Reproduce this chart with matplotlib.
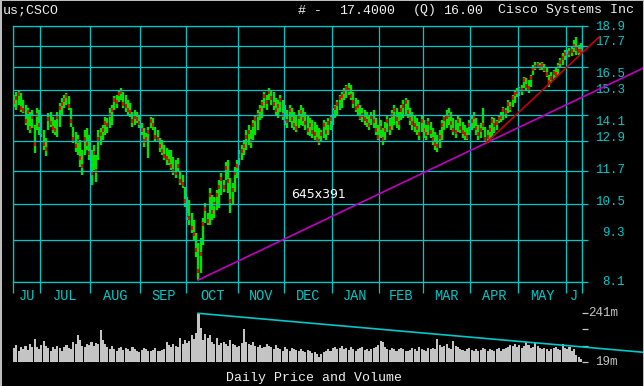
import numpy as np
import pandas as pd
import matplotlib
matplotlib.use("Agg")
import matplotlib.pyplot as plt
import matplotlib.ticker as mticker
from matplotlib.patches import Rectangle
from matplotlib.transforms import blended_transform_factory

# ---------------- data ----------------
holidays = ['2002-07-04', '2002-09-02', '2002-11-28', '2002-12-25', '2003-01-01',
            '2003-01-20', '2003-02-17', '2003-04-18', '2003-05-26']
dates = pd.bdate_range('2002-06-13', '2003-06-10', freq='C', holidays=holidays)
month_labels = ['JU', 'JUL', 'AUG', 'SEP', 'OCT', 'NOV', 'DEC', 'JAN', 'FEB', 'MAR', 'APR', 'MAY', 'J']

high = [15.04, 15.19, 15.29, 15.14, 14.79, 14.55, 14.41, 14.22, 14.31, 13.62,
        14.41, 14.31, 14.08, 13.39, 13.05, 14.17, 14.22, 13.99, 13.85, 14.22,
        14.65, 14.89, 15.04, 15.14, 14.99, 14.41, 13.53, 13.30, 13.18, 12.96,
        12.54, 13.39, 13.48, 13.18, 12.54, 12.75, 12.33, 13.39, 13.48, 13.62,
        13.99, 13.94, 14.41, 14.55, 14.99, 15.04, 15.29, 15.39, 15.19, 15.04,
        14.79, 14.65, 14.22, 14.31, 14.22, 14.08, 13.71, 13.48, 13.26, 13.53,
        13.99, 13.94, 13.53, 13.39, 13.05, 12.96, 12.75, 12.62, 12.54, 12.54,
        12.25, 12.13, 12.21, 11.65, 11.54, 11.10, 10.74, 10.62, 10.18, 9.95,
        9.52, 9.22, 9.37, 10.01, 10.52, 10.18, 11.06, 10.80, 10.74, 10.98,
        11.35, 11.62, 11.35, 12.05, 12.13, 11.43, 11.24, 11.85, 12.13, 12.54,
        12.75, 12.96, 13.39, 13.62, 13.39, 13.85, 14.08, 14.31, 14.55, 14.79,
        15.19, 15.04, 15.39, 15.29, 15.19, 14.89, 14.79, 15.04, 14.79, 14.55,
        14.31, 14.55, 14.41, 14.22, 14.08, 14.31, 14.55, 14.41, 14.22, 14.08,
        13.94, 13.85, 13.76, 13.62, 13.48, 13.39, 13.85, 13.76, 13.94, 14.08,
        14.41, 14.55, 14.79, 15.04, 15.19, 15.39, 15.55, 15.65, 15.55, 15.19,
        14.89, 14.79, 14.55, 14.41, 14.31, 14.22, 14.08, 14.22, 14.31, 13.94,
        13.62, 13.85, 13.48, 13.76, 14.08, 13.94, 14.31, 14.55, 14.41, 14.22,
        14.55, 14.79, 14.89, 14.79, 14.41, 14.22, 14.08, 13.94, 13.76, 14.08,
        13.85, 13.62, 13.94, 13.76, 13.48, 13.30, 13.18, 13.39, 13.85, 14.08,
        14.31, 14.41, 14.22, 13.94, 13.85, 14.08, 13.94, 13.76, 13.62, 13.48,
        13.85, 14.08, 14.22, 13.94, 13.62, 13.71, 14.41, 13.53, 13.39, 13.62,
        13.99, 13.94, 13.85, 14.08, 14.22, 14.46, 14.41, 14.79, 14.70, 15.04,
        15.29, 15.39, 15.45, 15.55, 15.97, 15.92, 15.81, 16.07, 16.61, 16.78,
        16.78, 16.72, 16.78, 16.67, 16.51, 16.07, 16.24, 16.34, 16.45, 16.72,
        17.00, 17.29, 17.46, 17.46, 17.58, 17.64, 18.04, 18.22, 17.75, 17.87]

low = [14.46, 14.31, 14.55, 14.21, 14.17, 13.62, 13.39, 13.26, 13.48, 12.41,
       13.39, 13.18, 13.09, 12.54, 12.29, 13.39, 13.53, 13.26, 13.18, 13.09,
       13.53, 14.08, 14.41, 14.55, 14.31, 13.53, 12.83, 12.45, 12.33, 11.85,
       11.54, 12.33, 12.54, 12.13, 11.17, 11.73, 11.28, 12.13, 12.75, 12.96,
       13.18, 13.26, 13.48, 13.62, 14.31, 14.41, 14.70, 14.79, 14.41, 14.22,
       14.08, 13.99, 13.53, 13.62, 13.71, 13.48, 13.18, 12.66, 12.87, 12.21,
       13.48, 13.39, 12.87, 12.87, 12.45, 12.33, 12.13, 11.93, 11.93, 11.73,
       11.54, 11.43, 11.65, 11.17, 11.06, 10.38, 9.95, 9.78, 9.52, 9.31,
       8.80, 8.15, 8.35, 9.16, 9.85, 9.78, 9.78, 9.95, 10.01, 10.28,
       10.35, 10.80, 10.91, 11.35, 10.87, 10.18, 10.45, 10.91, 11.43, 11.93,
       12.13, 12.33, 12.54, 12.75, 12.62, 12.96, 13.18, 13.39, 13.85, 13.94,
       14.41, 14.31, 14.79, 14.55, 14.31, 14.08, 13.94, 14.22, 13.85, 13.62,
       13.48, 13.76, 13.48, 13.39, 13.30, 13.48, 13.62, 13.57, 13.39, 13.18,
       13.13, 13.05, 12.96, 12.87, 12.75, 12.87, 13.05, 12.96, 13.18, 13.39,
       13.62, 13.94, 14.08, 14.31, 14.41, 14.79, 14.89, 15.04, 14.79, 14.41,
       14.22, 14.08, 13.85, 13.76, 13.62, 13.53, 13.39, 13.62, 13.48, 13.18,
       12.96, 13.05, 12.75, 12.96, 13.30, 13.18, 13.39, 13.62, 13.48, 13.39,
       13.85, 13.94, 14.08, 13.94, 13.62, 13.39, 13.30, 13.18, 12.96, 13.30,
       13.05, 12.96, 13.18, 13.05, 12.75, 12.54, 12.45, 12.62, 12.96, 13.39,
       13.48, 13.62, 13.39, 13.18, 13.05, 13.30, 13.26, 13.05, 12.96, 12.96,
       13.18, 13.39, 13.48, 13.18, 12.96, 13.05, 13.39, 12.87, 12.83, 12.96,
       13.09, 13.26, 13.39, 13.71, 13.76, 13.85, 13.94, 14.17, 14.22, 14.46,
       14.65, 14.94, 14.99, 15.04, 15.39, 15.29, 15.14, 15.45, 16.07, 16.34,
       16.45, 16.34, 16.34, 16.24, 15.97, 15.45, 15.65, 15.81, 15.92, 16.07,
       16.51, 16.61, 16.89, 17.00, 17.06, 17.11, 17.35, 17.17, 17.17, 17.35]

close = [14.70, 14.90, 15.10, 14.40, 14.30, 13.80, 14.20, 13.50, 14.00, 12.80,
         14.10, 13.60, 13.30, 12.80, 12.60, 13.90, 13.70, 13.50, 13.40, 14.00,
         14.40, 14.60, 14.80, 15.00, 14.50, 13.80, 13.00, 12.70, 12.90, 12.20,
         11.90, 13.00, 12.80, 12.40, 11.60, 12.40, 11.70, 13.00, 13.20, 13.40,
         13.70, 13.60, 14.10, 14.30, 14.80, 14.70, 15.10, 15.20, 14.60, 14.50,
         14.30, 14.20, 13.80, 14.00, 13.90, 13.70, 13.40, 12.90, 13.00, 13.30,
         13.80, 13.60, 13.10, 13.00, 12.70, 12.50, 12.30, 12.20, 12.10, 11.90,
         11.70, 11.60, 11.90, 11.30, 11.20, 10.60, 10.10, 10.00, 9.70, 9.50,
         9.00, 8.40, 8.90, 9.80, 10.30, 9.90, 10.80, 10.20, 10.50, 10.80,
         11.10, 11.40, 11.10, 11.80, 11.30, 10.60, 11.00, 11.60, 11.90, 12.30,
         12.50, 12.70, 13.10, 13.30, 12.90, 13.60, 13.90, 14.10, 14.30, 14.60,
         15.00, 14.70, 15.20, 14.90, 14.60, 14.30, 14.50, 14.80, 14.10, 13.90,
         13.80, 14.30, 13.90, 13.60, 13.50, 14.00, 14.20, 13.90, 13.70, 13.40,
         13.60, 13.30, 13.20, 13.00, 12.90, 13.20, 13.60, 13.30, 13.70, 13.90,
         14.20, 14.40, 14.60, 14.90, 15.00, 15.20, 15.40, 15.30, 15.00, 14.70,
         14.40, 14.50, 14.00, 14.10, 13.90, 13.80, 13.60, 14.00, 13.80, 13.40,
         13.10, 13.50, 13.00, 13.40, 13.80, 13.50, 14.10, 14.30, 13.90, 13.70,
         14.30, 14.50, 14.70, 14.20, 13.90, 13.70, 13.60, 13.50, 13.20, 13.80,
         13.40, 13.20, 13.70, 13.30, 13.00, 12.80, 12.70, 13.10, 13.60, 13.90,
         14.00, 14.10, 13.70, 13.40, 13.30, 13.80, 13.50, 13.30, 13.20, 13.10,
         13.60, 13.80, 14.00, 13.50, 13.20, 13.40, 13.60, 13.00, 13.10, 13.40,
         13.80, 13.60, 13.70, 13.90, 14.00, 14.30, 14.20, 14.60, 14.40, 14.90,
         15.10, 15.20, 15.30, 15.30, 15.80, 15.50, 15.40, 15.90, 16.40, 16.50,
         16.60, 16.50, 16.60, 16.40, 16.10, 15.70, 15.90, 16.20, 16.10, 16.50,
         16.80, 17.00, 17.20, 17.10, 17.30, 17.40, 17.70, 17.50, 17.40, 17.40]

volume = [80, 95, 70, 85, 75, 90, 72, 100, 85, 122, 88, 78, 95, 115, 90, 80, 70, 85,
          75, 90, 82, 70, 88, 95, 80, 78, 110, 100, 141, 118, 92, 85, 100, 95, 110, 90, 105, 98,
          164, 120, 100, 85, 78, 90, 75, 70, 82, 88, 72, 80, 75, 68, 85, 78, 70, 65, 72, 80,
          75, 70, 68, 74, 80, 70, 66, 72, 78,
          111, 95, 85, 100, 92, 88, 130, 100, 120, 105, 115, 141, 125, 150,
          241,
          172, 120, 146, 128, 140, 110, 100, 128, 95, 105, 110, 98, 90, 118, 100, 95, 85, 92,
          105, 169, 110,
          100, 95, 111, 90, 85, 95, 80, 88, 100, 92, 85, 78, 95, 82, 75, 70, 88, 75, 70, 80,
          78, 72, 68, 75, 70, 65, 72, 68, 60, 65, 55,
          40,
          55, 62, 70, 75, 68, 80, 85, 78, 82, 90, 75, 80, 72, 85, 78, 70, 75, 82, 88, 72, 78,
          70, 75, 80, 85, 95,
          114,
          108, 85, 78, 72, 80, 75, 70, 78, 82, 75, 70, 68, 72, 80, 75, 70, 85, 78, 72, 70, 80,
          75, 82, 78,
          123,
          95, 85, 90, 100, 82, 78, 115, 90, 85, 78, 72, 70, 75, 80, 72, 68, 75, 70, 72, 80, 78,
          70, 75, 72, 68, 75, 80, 70, 78, 82, 88,
          95, 90, 100, 85, 95, 80, 90, 108, 95, 80, 85, 104, 90, 80, 75, 82, 78, 70, 75, 80,
          85, 78, 72, 100, 80, 75, 85, 70, 78, 50, 40, 30]

price_ticks = [8.1, 9.3, 10.5, 11.7, 12.9, 14.1, 15.3, 16.5, 17.7, 18.9]
vol_ticks = [19, 93, 167, 241]

# trend lines (bar index, value)
magenta_x = [80.8, 276.7]
magenta_y = [8.15, 16.46]
red_x = [207.3, 257.0]
red_y = [12.83, 18.22]
vol_line_x = [80.8, 276.7]
vol_line_y = [241, 62]

# ---------------- style ----------------
W, H = 644, 386
BG = 'black'
CYAN = '#00C8C8'
GREEN = '#00E400'
RED = '#E00000'
MAG = '#C000C0'
TREND_RED = '#C80000'
VOLC = '#C4C4C4'
WHITE = '#F0F0F0'
MONO = ['Liberation Mono', 'DejaVu Sans Mono']
plt.rcParams['font.family'] = MONO


def rect(l, t, r, b):
    return [l / W, 1 - b / H, (r - l) / W, (b - t) / H]


fig = plt.figure(figsize=(W / 100, H / 100), dpi=100, facecolor=BG)

N = len(dates)
x = np.arange(N)
months = np.array([d.month for d in dates])
starts = [0] + [i for i in range(1, N) if months[i] != months[i - 1]]
ends = starts[1:] + [N]
bounds = [s - 0.5 for s in starts] + [N - 0.5]
centers = [(s + e) / 2 - 0.5 for s, e in zip(starts, ends)]

# ---------------- price panel ----------------
ax = fig.add_axes(rect(13, 26, 582, 282))
ax.set_facecolor(BG)
ax.set_yscale('log')
ax.set_ylim(8.1, 18.9)
ax.set_xlim(-0.5, N - 0.5)
ax.set_axisbelow(False)

ax.vlines(x, low, high, color=GREEN, lw=1.7, zorder=1.5)
ax.plot(x, close, ls='none', marker='|', ms=2.6, mew=1.3, color=RED, zorder=1.6)

ax.yaxis.set_major_locator(mticker.FixedLocator(price_ticks))
ax.yaxis.set_minor_locator(mticker.NullLocator())
ax.yaxis.set_major_formatter(mticker.NullFormatter())
ax.yaxis.set_minor_formatter(mticker.NullFormatter())
ax.yaxis.tick_right()
ax.tick_params(axis='y', which='major', direction='out', length=4.4, width=0.9,
               color=CYAN, labelright=False, left=False)

ax.set_xticks(bounds)
ax.set_xticklabels([''] * len(bounds))
ax.set_xticks(centers, minor=True)
ax.set_xticklabels(month_labels, minor=True)
ax.tick_params(axis='x', which='major', direction='out', length=8, width=0.9, color=CYAN)
ax.tick_params(axis='x', which='minor', length=0, pad=5, labelcolor=CYAN, labelsize=9.8)
ax.grid(True, which='major', axis='both', color=CYAN, lw=0.9)
for s in ax.spines.values():
    s.set_color(CYAN)
    s.set_linewidth(0.9)

trans = blended_transform_factory(ax.transAxes, ax.transData)
label_dy = [0, 7, 2, 1, 3.7, -7.5, 0, -7, 4, -0.5]  # pixel nudges of the labels
for v, dy in zip(price_ticks, label_dy):
    ax.annotate(f'{v:.1f}', xy=(1, v), xycoords=trans, xytext=(43 * 0.72, dy * 0.72),
                textcoords='offset points', ha='right', va='center', color=CYAN,
                fontsize=9, annotation_clip=False)

ax.plot(magenta_x, magenta_y, color=MAG, lw=1.2, clip_on=False, zorder=5)
ax.plot(red_x, red_y, color=TREND_RED, lw=1.2, clip_on=False, zorder=5)

ax.text(0.537, 0.34, '645x391', transform=ax.transAxes, ha='center', va='center',
        color='white', fontsize=9, family=['DejaVu Sans'])

# ---------------- volume panel ----------------
axv = fig.add_axes(rect(13, 313.3, 582, 361.7))
axv.set_facecolor('none')
axv.set_xlim(-0.5, N - 0.5)
axv.set_ylim(19, 241)
axv.bar(x, volume, width=0.9, color=VOLC, linewidth=0)
for s in axv.spines.values():
    s.set_visible(False)
axv.set_xticks([])
axv.yaxis.tick_right()
axv.set_yticks(vol_ticks)
axv.set_yticklabels([])
axv.tick_params(axis='y', direction='out', length=4.4, width=0.9, color=VOLC)
axv.plot(vol_line_x, vol_line_y, color=CYAN, lw=1.2, clip_on=False, zorder=5)
vtrans = blended_transform_factory(axv.transAxes, axv.transData)
for v, txt in [(241, '241m'), (19, '19m')]:
    axv.annotate(txt, xy=(1, v), xycoords=vtrans, xytext=(36 * 0.72, 0),
                 textcoords='offset points', ha='right', va='center', color=VOLC,
                 fontsize=9, annotation_clip=False)

# ---------------- header / footer ----------------
hy = 1 - 10.5 / H
fig.text(3 / W, hy, 'us;CSCO', color=WHITE, fontsize=9.5, va='center')
for px, txt in [(298, '# -'), (339, '17.4000'), (413, '(Q)'), (443, '16.00'),
                (498, 'Cisco Systems Inc')]:
    fig.text(px / W, hy, txt, color=WHITE, fontsize=9.5, va='center')
fig.text(314 / W, 1 - 378 / H, 'Daily Price and Volume', color=WHITE, fontsize=9.5,
         ha='center', va='center')

# grey frame of the window
for (l, b, w, h) in [(0, 0, 2 / W, 1), (0, 1 - 1 / H, 1, 1 / H), (1 - 1.2 / W, 0, 1.2 / W, 1)]:
    fig.patches.append(Rectangle((l, b), w, h, transform=fig.transFigure,
                                 color='#BEBEBE', lw=0, zorder=10))

fig.savefig('out.png', dpi=100, facecolor=BG)
